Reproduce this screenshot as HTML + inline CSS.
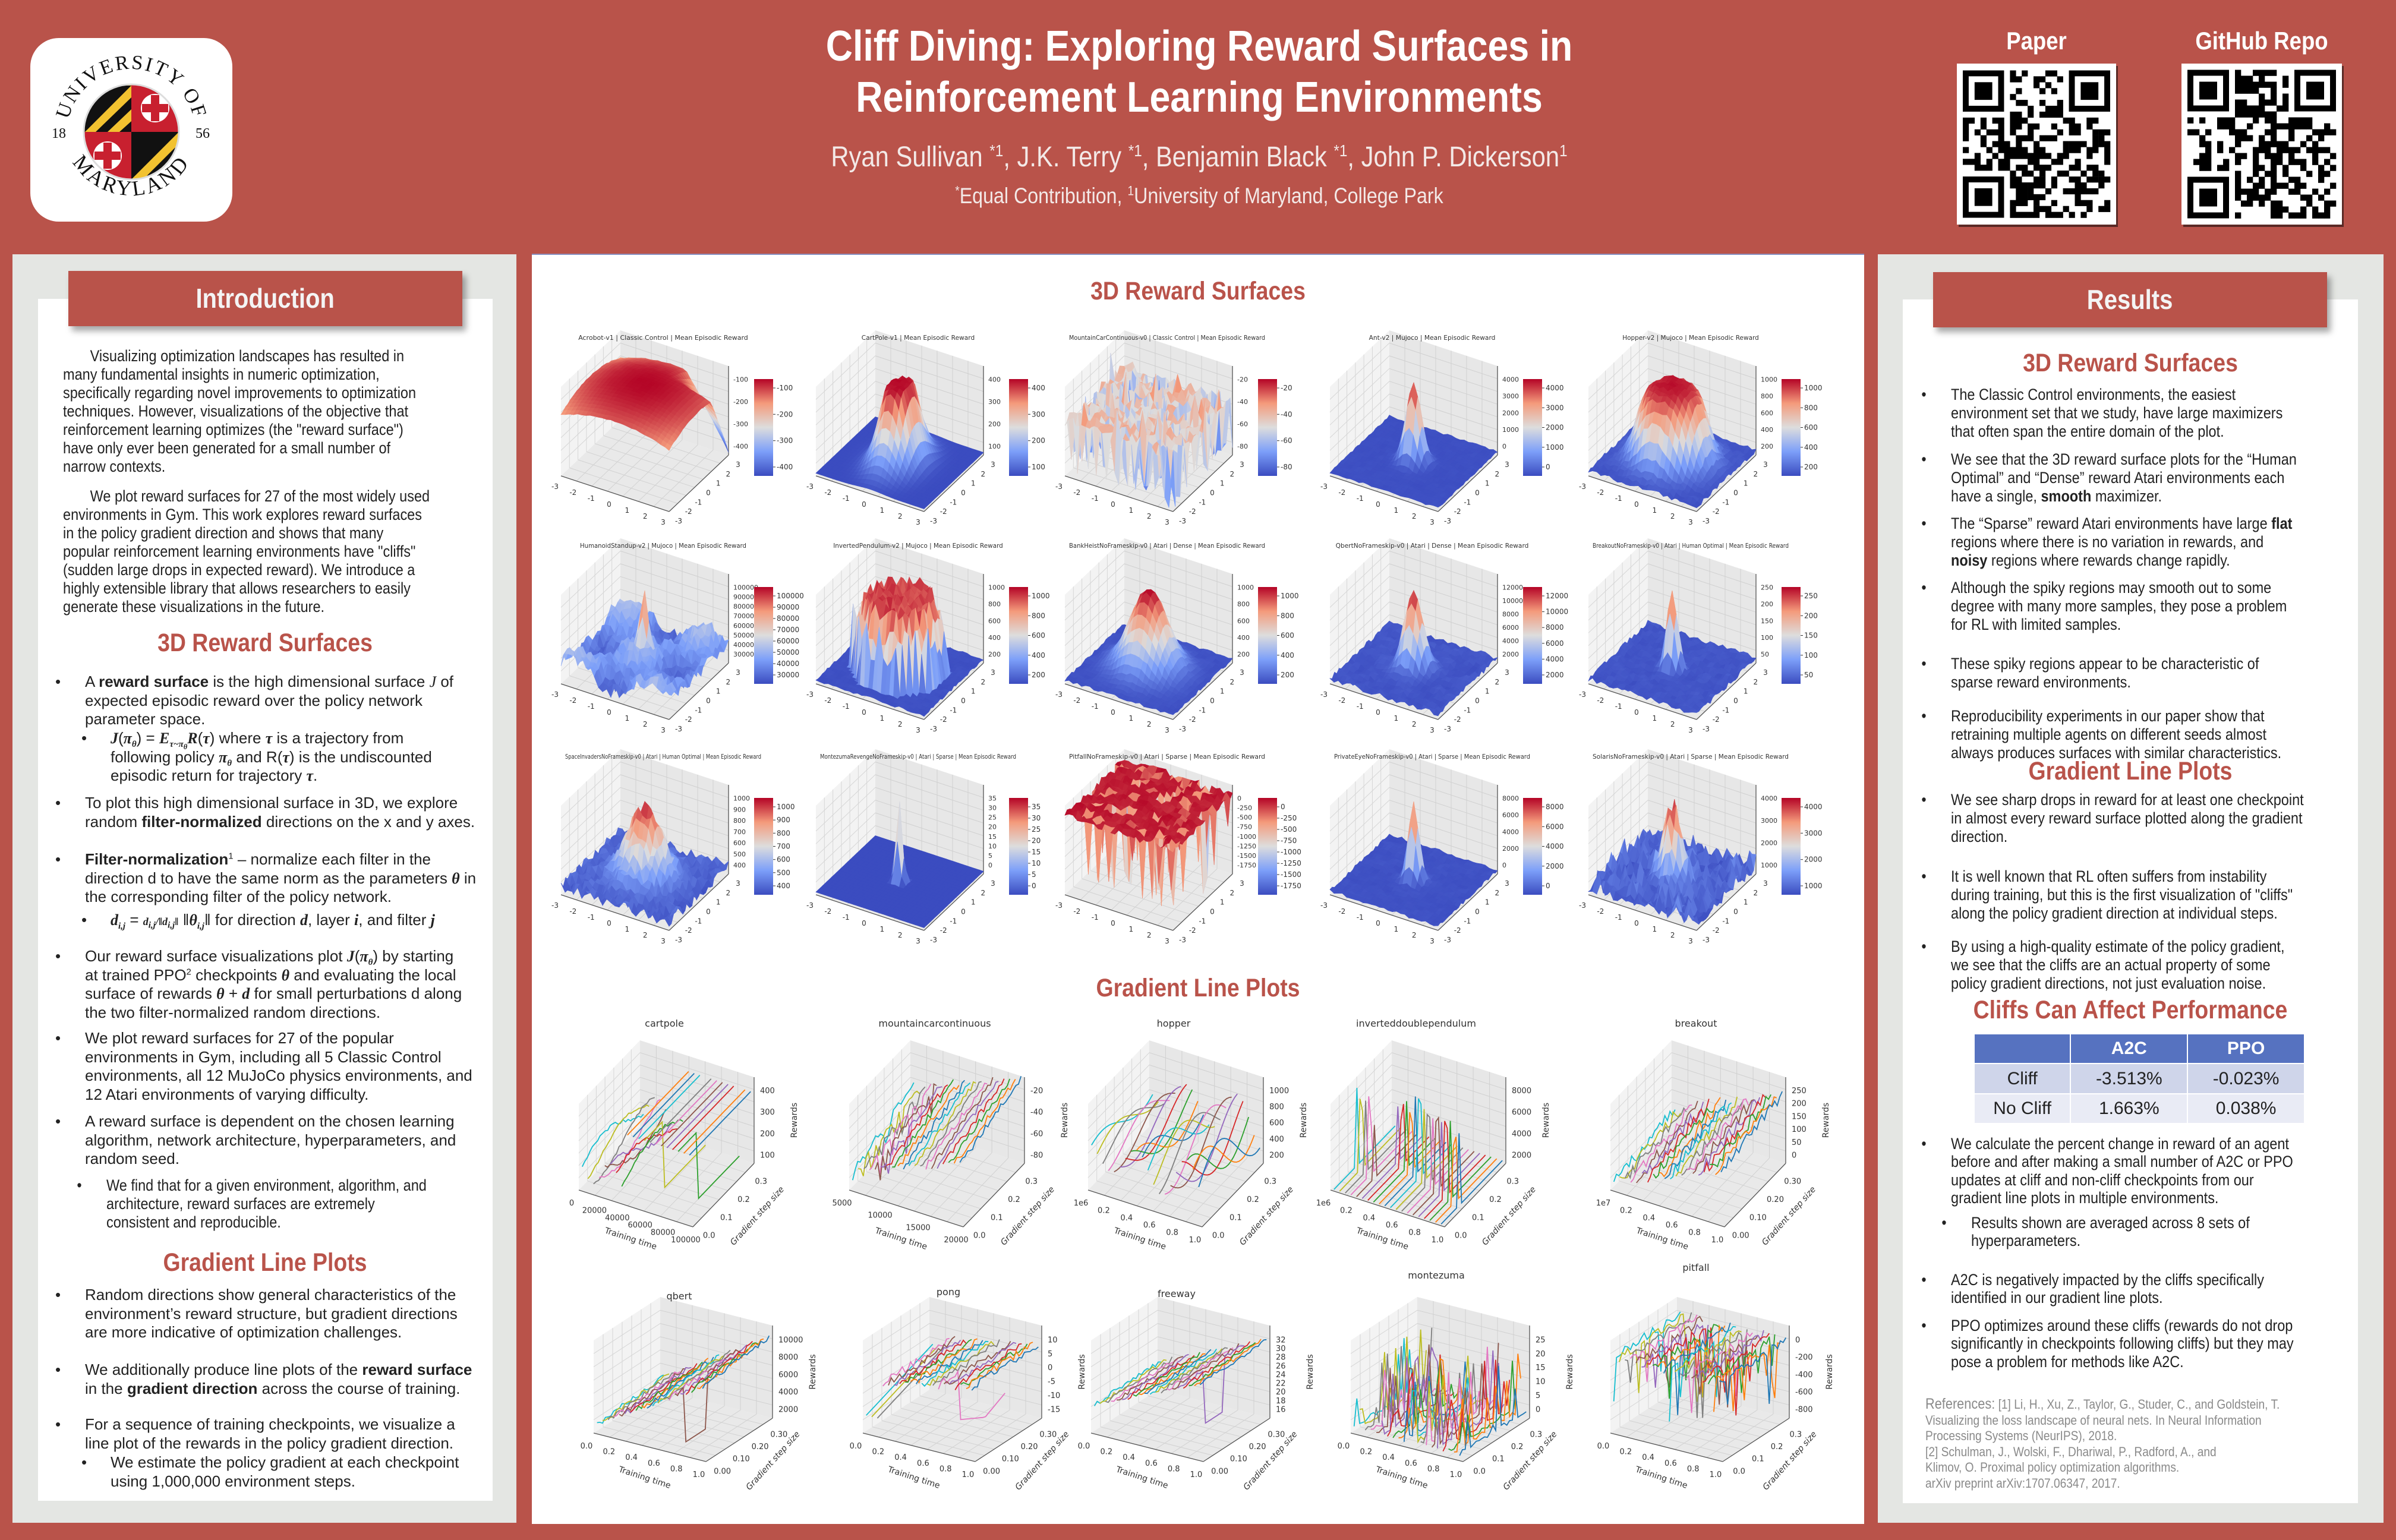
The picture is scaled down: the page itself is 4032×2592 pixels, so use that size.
<!DOCTYPE html>
<html><head><meta charset="utf-8">
<style>
html,body{margin:0;padding:0}
body{width:4032px;height:2592px;position:relative;overflow:hidden;background:#b9534a;font-family:"Liberation Sans",Arial,sans-serif;color:#222}
.abs{position:absolute}
.pnl{position:absolute}
sub,sup{line-height:0}
.n{position:absolute;font-size:27px;line-height:31px;white-space:nowrap;transform:scaleX(.87);transform-origin:0 0;color:#222}
.w{position:absolute;font-size:26px;line-height:31.5px;white-space:nowrap;color:#222}
.bl{position:absolute}
.hd{position:absolute;width:2000px;text-align:center;font-weight:bold;color:#b9534a;font-size:43px;line-height:50px;transform:scaleX(.87);transform-origin:50% 0;white-space:nowrap}
.bx{position:absolute;background:#b9534a;box-shadow:6px 8px 10px rgba(0,0,0,.35);color:#f4f4f4;font-weight:bold;font-size:46px;text-align:center}
.m{font-family:"Liberation Serif",serif;font-weight:bold;font-style:italic}
.ctr{position:absolute;width:2400px;text-align:center;white-space:nowrap;color:#fff;transform:scaleX(.87);transform-origin:50% 0}
table{border-collapse:collapse}
</style></head><body>

<div class="abs" style="left:51px;top:64px;width:340px;height:309px;background:#fff;border-radius:48px"></div>
<svg class="abs" style="left:51px;top:64px" width="340" height="309" viewBox="0 0 340 309">
 <defs>
  <path id="arcT" d="M62,160 A108,108 0 0 1 278,160"/>
  <path id="arcB" d="M55,150 A115,115 0 0 0 285,150"/>
 </defs>
 <text font-family="Liberation Serif,serif" font-size="34" fill="#111" letter-spacing="3"><textPath href="#arcT" startOffset="50%" text-anchor="middle">UNIVERSITY OF</textPath></text>
 <text font-family="Liberation Serif,serif" font-size="36" fill="#111" letter-spacing="4"><textPath href="#arcB" startOffset="50%" text-anchor="middle">MARYLAND</textPath></text>
 <text x="36" y="168" font-family="Liberation Serif,serif" font-size="24" fill="#111">18</text>
 <text x="278" y="168" font-family="Liberation Serif,serif" font-size="24" fill="#111">56</text>
 <clipPath id="cc"><circle cx="170" cy="158" r="80"/></clipPath>
 <g clip-path="url(#cc)">
  <rect x="90" y="78" width="80" height="80" fill="#f2c230"/>
  <path d="M90,80 l20,0 l-20,20z M110,80 l20,0 l-40,40 l0,-20z M130,80 l20,0 l-60,60 l0,-20z M150,80 l20,0 l-80,80 l0,-20z M170,100 l0,20 l-40,38 l-20,0z M170,140 l0,18 l-20,0z" fill="#111"/>
  <rect x="170" y="78" width="80" height="80" fill="#c8202f"/>
  <circle cx="210" cy="118" r="24" fill="#fff"/><rect x="203" y="96" width="14" height="44" fill="#c8202f"/><rect x="188" y="111" width="44" height="14" fill="#c8202f"/>
  <rect x="90" y="158" width="80" height="80" fill="#c8202f"/>
  <circle cx="130" cy="198" r="24" fill="#fff"/><rect x="123" y="176" width="14" height="44" fill="#c8202f"/><rect x="108" y="191" width="44" height="14" fill="#c8202f"/>
  <rect x="170" y="158" width="80" height="80" fill="#f2c230"/>
  <path d="M170,158 l20,0 l-20,20z M190,158 l20,0 l-40,40 l0,-20z M210,158 l20,0 l-60,60 l0,-20z M230,158 l20,0 l-80,80 l0,-20z M250,178 l0,20 l-40,40 l-20,0z M250,218 l0,20 l-20,0z" fill="#111"/>
 </g>
 <circle cx="170" cy="158" r="80" fill="none" stroke="#ddd" stroke-width="3"/>
</svg>

<div class="ctr" style="left:818px;top:35px;font-size:72px;line-height:86px;font-weight:bold">Cliff Diving: Exploring Reward Surfaces in<br>Reinforcement Learning Environments</div>
<div class="ctr" style="left:818px;top:236px;font-size:48px;line-height:58px;color:#f3e9e7">Ryan Sullivan <sup style="font-size:28px">*1</sup>, J.K. Terry <sup style="font-size:28px">*1</sup>, Benjamin Black <sup style="font-size:28px">*1</sup>, John P. Dickerson<sup style="font-size:28px">1</sup></div>
<div class="ctr" style="left:818px;top:308px;font-size:37px;line-height:44px;color:#f3e9e7"><sup style="font-size:22px">*</sup>Equal Contribution, <sup style="font-size:22px">1</sup>University of Maryland, College Park</div>
<div class="ctr" style="left:2227px;top:44px;font-size:42px;line-height:50px;font-weight:bold">Paper</div>
<div class="ctr" style="left:2606px;top:44px;font-size:42px;line-height:50px;font-weight:bold">GitHub Repo</div>

<div class="pnl" style="left:21px;top:428px;width:848px;height:2135px;background:#e4e6e3"></div>
<div class="pnl" style="left:64px;top:503px;width:765px;height:2023px;background:#fff"></div>
<div class="pnl" style="left:895px;top:427px;width:2242px;height:2136px;background:#fff;border-top:2px solid #8a90c0"></div>
<div class="pnl" style="left:3160px;top:428px;width:851px;height:2135px;background:#e4e6e3"></div>
<div class="pnl" style="left:3202px;top:504px;width:766px;height:2026px;background:#fff"></div>

<div class="bx" style="left:115px;top:456px;width:663px;height:93px;line-height:93px"><span style="display:inline-block;transform:scaleX(.87)">Introduction</span></div>
<div class="bx" style="left:3253px;top:458px;width:663px;height:93px;line-height:93px"><span style="display:inline-block;transform:scaleX(.87)">Results</span></div>

<div class="n" style="left:106px;top:584px">&nbsp;&nbsp;&nbsp;&nbsp;&nbsp;&nbsp;&nbsp;Visualizing optimization landscapes has resulted in<br>many fundamental insights in numeric optimization,<br>specifically regarding novel improvements to optimization<br>techniques. However, visualizations of the objective that<br>reinforcement learning optimizes (the "reward surface")<br>have only ever been generated for a small number of<br>narrow contexts.</div>
<div class="n" style="left:106px;top:820px">&nbsp;&nbsp;&nbsp;&nbsp;&nbsp;&nbsp;&nbsp;We plot reward surfaces for 27 of the most widely used<br>environments in Gym. This work explores reward surfaces<br>in the policy gradient direction and shows that many<br>popular reinforcement learning environments have "cliffs"<br>(sudden large drops in expected reward). We introduce a<br>highly extensible library that allows researchers to easily<br>generate these visualizations in the future.</div>
<div class="hd" style="left:-554px;top:1057px">3D Reward Surfaces</div>

<div class="w" style="left:143px;top:1132px"><span class="bl" style="left:-50px">•</span>A <b>reward surface</b> is the high dimensional surface <i style="font-family:'Liberation Serif',serif">J</i> of<br>expected episodic reward over the policy network<br>parameter space.</div>
<div class="w" style="left:186px;top:1227px"><span class="bl" style="left:-49px">•</span><span class="m">J</span>(<span class="m">π<sub style="font-size:15px">θ</sub></span>) = <span class="m">E<sub style="font-size:15px">τ~π<sub>θ</sub></sub>R</span>(<span class="m">τ</span>) where <span class="m">τ</span> is a trajectory from<br>following policy <span class="m">π<sub style="font-size:15px">θ</sub></span> and R(<span class="m">τ</span>) is the undiscounted<br>episodic return for trajectory <span class="m">τ</span>.</div>
<div class="w" style="left:143px;top:1336px"><span class="bl" style="left:-50px">•</span>To plot this high dimensional surface in 3D, we explore<br>random <b>filter-normalized</b> directions on the x and y axes.</div>
<div class="w" style="left:143px;top:1431px"><span class="bl" style="left:-50px">•</span><b>Filter-normalization</b><sup style="font-size:15px">1</sup> – normalize each filter in the<br>direction d to have the same norm as the parameters <span class="m">θ</span> in<br>the corresponding filter of the policy network.</div>
<div class="w" style="left:186px;top:1533px"><span class="bl" style="left:-49px">•</span><span class="m">d<sub style="font-size:15px">i,j</sub></span> = <span class="m" style="font-size:18px">d<sub>i,j</sub>/‖d<sub>i,j</sub>‖</span> ‖<span class="m">θ<sub style="font-size:15px">i,j</sub></span>‖ for direction <span class="m">d</span>, layer <span class="m">i</span>, and filter <span class="m">j</span></div>
<div class="w" style="left:143px;top:1594px"><span class="bl" style="left:-50px">•</span>Our reward surface visualizations plot <span class="m">J</span>(<span class="m">π<sub style="font-size:15px">θ</sub></span>) by starting<br>at trained PPO<sup style="font-size:15px">2</sup> checkpoints <span class="m">θ</span> and evaluating the local<br>surface of rewards <span class="m">θ</span> + <span class="m">d</span> for small perturbations d along<br>the two filter-normalized random directions.</div>
<div class="w" style="left:143px;top:1732px"><span class="bl" style="left:-50px">•</span>We plot reward surfaces for 27 of the popular<br>environments in Gym, including all 5 Classic Control<br>environments, all 12 MuJoCo physics environments, and<br>12 Atari environments of varying difficulty.</div>
<div class="w" style="left:143px;top:1872px"><span class="bl" style="left:-50px">•</span>A reward surface is dependent on the chosen learning<br>algorithm, network architecture, hyperparameters, and<br>random seed.</div>
<div class="n" style="left:179px;top:1980px"><span class="bl" style="left:-57px">•</span>We find that for a given environment, algorithm, and<br>architecture, reward surfaces are extremely<br>consistent and reproducible.</div>
<div class="hd" style="left:-554px;top:2100px">Gradient Line Plots</div>
<div class="w" style="left:143px;top:2164px"><span class="bl" style="left:-50px">•</span>Random directions show general characteristics of the<br>environment’s reward structure, but gradient directions<br>are more indicative of optimization challenges.</div>
<div class="w" style="left:143px;top:2290px"><span class="bl" style="left:-50px">•</span>We additionally produce line plots of the <b>reward surface</b><br>in the <b>gradient direction</b> across the course of training.</div>
<div class="w" style="left:143px;top:2382px"><span class="bl" style="left:-50px">•</span>For a sequence of training checkpoints, we visualize a<br>line plot of the rewards in the policy gradient direction.</div>
<div class="w" style="left:186px;top:2446px"><span class="bl" style="left:-49px">•</span>We estimate the policy gradient at each checkpoint<br>using 1,000,000 environment steps.</div>

<div class="hd" style="left:1016px;top:465px">3D Reward Surfaces</div>
<div class="hd" style="left:1016px;top:1638px">Gradient Line Plots</div>

<div class="hd" style="left:2585px;top:586px">3D Reward Surfaces</div>
<div class="n" style="left:3283px;top:649px"><span class="bl" style="left:-57px">•</span>The Classic Control environments, the easiest<br>environment set that we study, have large maximizers<br>that often span the entire domain of the plot.</div>
<div class="n" style="left:3283px;top:758px"><span class="bl" style="left:-57px">•</span>We see that the 3D reward surface plots for the “Human<br>Optimal” and “Dense” reward Atari environments each<br>have a single, <b>smooth</b> maximizer.</div>
<div class="n" style="left:3283px;top:866px"><span class="bl" style="left:-57px">•</span>The “Sparse” reward Atari environments have large <b>flat</b><br>regions where there is no variation in rewards, and<br><b>noisy</b> regions where rewards change rapidly.</div>
<div class="n" style="left:3283px;top:974px"><span class="bl" style="left:-57px">•</span>Although the spiky regions may smooth out to some<br>degree with many more samples, they pose a problem<br>for RL with limited samples.</div>
<div class="n" style="left:3283px;top:1102px"><span class="bl" style="left:-57px">•</span>These spiky regions appear to be characteristic of<br>sparse reward environments.</div>
<div class="n" style="left:3283px;top:1190px"><span class="bl" style="left:-57px">•</span>Reproducibility experiments in our paper show that<br>retraining multiple agents on different seeds almost<br>always produces surfaces with similar characteristics.</div>
<div class="hd" style="left:2585px;top:1273px">Gradient Line Plots</div>
<div class="n" style="left:3283px;top:1331px"><span class="bl" style="left:-57px">•</span>We see sharp drops in reward for at least one checkpoint<br>in almost every reward surface plotted along the gradient<br>direction.</div>
<div class="n" style="left:3283px;top:1460px"><span class="bl" style="left:-57px">•</span>It is well known that RL often suffers from instability<br>during training, but this is the first visualization of "cliffs"<br>along the policy gradient direction at individual steps.</div>
<div class="n" style="left:3283px;top:1578px"><span class="bl" style="left:-57px">•</span>By using a high-quality estimate of the policy gradient,<br>we see that the cliffs are an actual property of some<br>policy gradient directions, not just evaluation noise.</div>
<div class="hd" style="left:2585px;top:1675px">Cliffs Can Affect Performance</div>

<table class="abs" style="left:3321px;top:1739px;width:558px;font-size:30px;text-align:center">
 <tr style="height:50px;background:#5672c0;color:#fff;font-weight:bold"><td style="width:164px;border:2px solid #fff"></td><td style="width:197px;border:2px solid #fff">A2C</td><td style="width:197px;border:2px solid #fff">PPO</td></tr>
 <tr style="height:51px;background:#cfd5ea"><td style="border:2px solid #fff">Cliff</td><td style="border:2px solid #fff">-3.513%</td><td style="border:2px solid #fff">-0.023%</td></tr>
 <tr style="height:50px;background:#e9ebf5"><td style="border:2px solid #fff">No Cliff</td><td style="border:2px solid #fff">1.663%</td><td style="border:2px solid #fff">0.038%</td></tr>
</table>

<div class="n" style="left:3283px;top:1910px;line-height:30.3px"><span class="bl" style="left:-57px">•</span>We calculate the percent change in reward of an agent<br>before and after making a small number of A2C or PPO<br>updates at cliff and non-cliff checkpoints from our<br>gradient line plots in multiple environments.</div>
<div class="n" style="left:3317px;top:2043px;line-height:30.3px"><span class="bl" style="left:-57px">•</span>Results shown are averaged across 8 sets of<br>hyperparameters.</div>
<div class="n" style="left:3283px;top:2139px;line-height:30.3px"><span class="bl" style="left:-57px">•</span>A2C is negatively impacted by the cliffs specifically<br>identified in our gradient line plots.</div>
<div class="n" style="left:3283px;top:2216px;line-height:30.3px"><span class="bl" style="left:-57px">•</span>PPO optimizes around these cliffs (rewards do not drop<br>significantly in checkpoints following cliffs) but they may<br>pose a problem for methods like A2C.</div>
<div class="n" style="left:3240px;top:2350px;font-size:22px;line-height:26.6px;color:#8a8a8a"><span style="font-size:25px">References:</span> [1] Li, H., Xu, Z., Taylor, G., Studer, C., and Goldstein, T.<br>Visualizing the loss landscape of neural nets. In Neural Information<br>Processing Systems (NeurIPS), 2018.<br>[2] Schulman, J., Wolski, F., Dhariwal, P., Radford, A., and<br>Klimov, O. Proximal policy optimization algorithms.<br>arXiv preprint arXiv:1707.06347, 2017.</div>

<svg id="plots" class="abs" style="left:0;top:0" width="4032" height="2592"></svg>

<script>
(function(){
var s='';
var seed=12345;
function R(){seed=(seed*16807)%2147483647;return (seed-1)/2147483646;}
var st=[[0,[59,76,192]],[.25,[124,159,249]],[.5,[221,221,221]],[.75,[244,154,123]],[1,[180,4,38]]];
function cw(t){t=Math.max(0,Math.min(1,t));for(var i=0;i<4;i++){if(t<=st[i+1][0]){var a=st[i],b=st[i+1],f=(t-a[0])/(b[0]-a[0]);return 'rgb('+Math.round(a[1][0]+(b[1][0]-a[1][0])*f)+','+Math.round(a[1][1]+(b[1][1]-a[1][1])*f)+','+Math.round(a[1][2]+(b[1][2]-a[1][2])*f)+')';}}return 'rgb(180,4,38)';}
function P(g,u,v,w){return [g.O[0]+u*g.X[0]+v*g.Y[0]+w*g.Z[0],g.O[1]+u*g.X[1]+v*g.Y[1]+w*g.Z[1]];}
function pts(a){return a.map(function(p){return p[0].toFixed(1)+','+p[1].toFixed(1);}).join(' ');}
function ln(a,b,c,w){s+='<line x1="'+a[0].toFixed(1)+'" y1="'+a[1].toFixed(1)+'" x2="'+b[0].toFixed(1)+'" y2="'+b[1].toFixed(1)+'" stroke="'+c+'" stroke-width="'+(w||1)+'"/>';}
function tx(x,y,t,sz,anc,extra){s+='<text x="'+x.toFixed(1)+'" y="'+y.toFixed(1)+'" font-family="DejaVu Sans,Liberation Sans,sans-serif" font-size="'+sz+'" fill="#333" text-anchor="'+(anc||'middle')+'" '+(extra||'')+'>'+t+'</text>';}
function box(g,n){
 s+='<polygon points="'+pts([P(g,0,0,0),P(g,1,0,0),P(g,1,1,0),P(g,0,1,0)])+'" fill="#e9e9e9"/>';
 s+='<polygon points="'+pts([P(g,1,0,0),P(g,1,1,0),P(g,1,1,1),P(g,1,0,1)])+'" fill="#f3f3f3"/>';
 s+='<polygon points="'+pts([P(g,0,1,0),P(g,1,1,0),P(g,1,1,1),P(g,0,1,1)])+'" fill="#e7e7e7"/>';
 for(var k=1;k<n;k++){var t=k/n;
  ln(P(g,t,0,0),P(g,t,1,0),'#d2d2d2');ln(P(g,0,t,0),P(g,1,t,0),'#d2d2d2');
  ln(P(g,1,t,0),P(g,1,t,1),'#d6d6d6');ln(P(g,1,0,t),P(g,1,1,t),'#d6d6d6');
  ln(P(g,t,1,0),P(g,t,1,1),'#d0d0d0');ln(P(g,0,1,t),P(g,1,1,t),'#d0d0d0');}
 ln(P(g,0,0,0),P(g,1,0,0),'#555',1.3);ln(P(g,0,0,0),P(g,0,1,0),'#555',1.3);ln(P(g,0,1,0),P(g,0,1,1),'#555',1.3);
}
function surf(g,f,n){
 var H=[],mn=1e9,mx=-1e9,i,j;
 for(i=0;i<=n;i++){H[i]=[];for(j=0;j<=n;j++){var h=f(i/n,j/n);H[i][j]=h;if(h<mn)mn=h;if(h>mx)mx=h;}}
 var q=[];for(i=0;i<n;i++)for(j=0;j<n;j++)q.push([i,j]);
 q.sort(function(a,b){return (b[0]+b[1])-(a[0]+a[1]);});
 var W=function(h){return 0.03+0.9*(h-mn)/(mx-mn||1);};
 q.forEach(function(c){var i=c[0],j=c[1];
  var a=H[i][j],b=H[i+1][j],d=H[i+1][j+1],e=H[i][j+1];
  var col=cw(((a+b+d+e)/4-mn)/(mx-mn||1));
  s+='<polygon points="'+pts([P(g,i/n,j/n,W(a)),P(g,(i+1)/n,j/n,W(b)),P(g,(i+1)/n,(j+1)/n,W(d)),P(g,i/n,(j+1)/n,W(e))])+'" fill="'+col+'" stroke="'+col+'" stroke-width="0.7"/>';});
}
function g2(u,v){var a=u-.5,b=v-.5;return a*a+b*b;}
var S=[
 ['Acrobot-v1 | Classic Control | Mean Episodic Reward',function(u,v){var h=0.95-1.3*g2(u,v)+0.03*R();if(u<0.4&&v>0.7)h-=0.9*(v-0.7)/0.3*(0.4-u)/0.4*2;return h;},['-100','-200','-300','-400']],
 ['CartPole-v1 | Mean Episodic Reward',function(u,v){var a=u-.5,b=v-.5;var gg=Math.exp(-(a*a/0.025+b*b/0.06));return Math.min(1,1.5*gg)+0.05*gg*R();},['400','300','200','100']],
 ['MountainCarContinuous-v0 | Classic Control | Mean Episodic Reward',function(u,v){var r=R();return r<0.3?r*0.9:0.62+0.15*R()+(R()<0.04?0.3:0);},['-20','-40','-60','-80']],
 ['Ant-v2 | Mujoco | Mean Episodic Reward',function(u,v){return 0.05+0.9*Math.exp(-g2(u,v)/0.008)+0.02*R();},['4000','3000','2000','1000','0']],
 ['Hopper-v2 | Mujoco | Mean Episodic Reward',function(u,v){return 0.08+0.85/(1+Math.exp((Math.sqrt(g2(u,v))-0.3)*22))+0.05*R();},['1000','800','600','400','200']],
 ['HumanoidStandup-v2 | Mujoco | Mean Episodic Reward',function(u,v){return 0.25+0.2*R()+0.3*Math.sin(u*9)*Math.cos(v*7)*0.5+0.7*Math.exp(-g2(u,v)/0.002);},['100000','90000','80000','70000','60000','50000','40000','30000']],
 ['InvertedPendulum-v2 | Mujoco | Mean Episodic Reward',function(u,v){var r=Math.sqrt(g2(u,v));return r<0.3?0.8+0.2*R():(r<0.38?0.3+0.5*R():0.03+0.03*R());},['1000','800','600','400','200']],
 ['BankHeistNoFrameskip-v0 | Atari | Dense | Mean Episodic Reward',function(u,v){return 0.05+0.85*Math.exp(-g2(u,v)/0.05)+0.03*R();},['1000','800','600','400','200']],
 ['QbertNoFrameskip-v0 | Atari | Dense | Mean Episodic Reward',function(u,v){return 0.05+0.8*Math.exp(-g2(u,v)/0.012)+0.05*R();},['12000','10000','8000','6000','4000','2000']],
 ['BreakoutNoFrameskip-v0 | Atari | Human Optimal | Mean Episodic Reward',function(u,v){return 0.04+0.85*Math.exp(-g2(u,v)/0.004)+0.05*R();},['250','200','150','100','50']],
 ['SpaceInvadersNoFrameskip-v0 | Atari | Human Optimal | Mean Episodic Reward',function(u,v){return 0.1+0.7*Math.exp(-g2(u,v)/0.04)+0.12*R();},['1000','900','800','700','600','500','400']],
 ['MontezumaRevengeNoFrameskip-v0 | Atari | Sparse | Mean Episodic Reward',function(u,v){return 0.02+0.9*Math.exp(-g2(u,v)/0.0012)*(0.5+0.5*R());},['35','30','25','20','15','10','5','0']],
 ['PitfallNoFrameskip-v0 | Atari | Sparse | Mean Episodic Reward',function(u,v){return R()<0.07?0.2+0.5*R():0.92+0.06*R();},['0','-250','-500','-750','-1000','-1250','-1500','-1750']],
 ['PrivateEyeNoFrameskip-v0 | Atari | Sparse | Mean Episodic Reward',function(u,v){return 0.05+0.02*R()+0.55*Math.exp(-g2(u,v)/0.004);},['8000','6000','4000','2000','0']],
 ['SolarisNoFrameskip-v0 | Atari | Sparse | Mean Episodic Reward',function(u,v){return 0.12+0.5*Math.exp(-g2(u,v)/0.012)+0.18*R()*R();},['4000','3000','2000','1000']]
];
var TC=[1116,1545,1964,2410,2845],TY=[568,918,1273];
s+='<defs><linearGradient id="cb" x1="0" y1="1" x2="0" y2="0"><stop offset="0" stop-color="rgb(59,76,192)"/><stop offset=".25" stop-color="rgb(124,159,249)"/><stop offset=".5" stop-color="rgb(221,221,221)"/><stop offset=".75" stop-color="rgb(244,154,123)"/><stop offset="1" stop-color="rgb(180,4,38)"/></linearGradient></defs>';
var ticks3=['-3','-2','-1','0','1','2','3'];
S.forEach(function(p,k){
 var c=k%5,r=Math.floor(k/5),tc=TC[c],ty=TY[r];
 var g={O:[tc+10,ty+293],X:[-182,-60],Y:[100,-95],Z:[0,-150]};
 box(g,7);
 surf(g,p[1],26);
 tx(tc,ty+4,p[0],11,'middle','textLength="'+Math.min(330,p[0].length*5.6)+'" lengthAdjust="spacingAndGlyphs"');
 for(var i=0;i<7;i++){var a=P(g,1-i/6,0,0);tx(a[0]-10,a[1]+22,ticks3[i],12);var b=P(g,0,i/6,0);tx(b[0]+16,b[1]+20,ticks3[i],12);}
 var lab=p[2];
 for(i=0;i<lab.length;i++){var zz=P(g,0,1,0.85-0.75*i/(lab.length-1));tx(zz[0]+8,zz[1]+4,lab[i],11,'start');}
 var cx=tc+153,cy=ty+70;
 s+='<rect x="'+cx+'" y="'+cy+'" width="32" height="163" fill="url(#cb)"/>';
 for(i=0;i<lab.length;i++){var yy=cy+15+(133*i/(lab.length-1));tx(cx+38,yy+4,lab[i],12,'start');ln([cx+32,yy],[cx+36,yy],'#333');}
});
var C=['#1f77b4','#ff7f0e','#2ca02c','#d62728','#9467bd','#8c564b','#e377c2','#7f7f7f','#bcbd22','#17becf'];
function lp(g,N,fn){for(var i=N-1;i>=0;i--){var u=0.03+0.94*i/(N-1),a=[];for(var k=0;k<=24;k++){var v=k/24;var w=fn(i,v,u);w=Math.max(0,Math.min(1,w));a.push(P(g,u,v,w));}
 s+='<polyline points="'+pts(a)+'" fill="none" stroke="'+C[i%10]+'" stroke-width="1.8"/>';}}
var L=[
 ['cartpole',1118,1723,1,function(i,v,u){if(u>0.62)return 0.25+0.15*Math.sin(v*4+i)+0.04*R();if((i%6==2)&&v>0.3)return 0.03;return 0.82;},['0','20000','40000','60000','80000','100000'],['0.0','0.1','0.2','0.3'],['400','300','200','100']],
 ['mountaincarcontinuous',1573,1723,1,function(i,v,u){var b=0.35+0.5*(1-u)+0.25*v-0.12;if(u>0.7&&R()<0.3)b-=0.3*R();return b+0.08*(R()-.5);},['5000','10000','15000','20000'],['0.0','0.1','0.2','0.3'],['-20','-40','-60','-80']],
 ['hopper',1975,1723,1,function(i,v,u){return 0.45+0.3*Math.sin(v*5+i*0.7)*(0.4+0.6*(1-u));},['1e6','0.2','0.4','0.6','0.8','1.0'],['0.0','0.1','0.2','0.3'],['1000','800','600','400','200']],
 ['inverteddoublependulum',2383,1723,1,function(i,v,u){return (Math.abs(v-0.3-0.02*i%0.3)<0.03)?0.55+0.4*R():0.02;},['1e6','0.2','0.4','0.6','0.8','1.0'],['0.0','0.1','0.2','0.3'],['8000','6000','4000','2000']],
 ['breakout',2854,1723,1,function(i,v,u){return 0.08+0.6*(1-u)+0.12*v+0.14*(R()-.5);},['1e7','0.2','0.4','0.6','0.8','1.0'],['0.00','0.10','0.20','0.30'],['250','200','150','100','50','0']],
 ['qbert',1143,2182,2,function(i,v,u){if(i==5&&v>0.15&&v<0.5)return 0.05;return 0.08+0.75*(1-u)+0.05*v+0.06*(R()-.5);},['0.0','0.2','0.4','0.6','0.8','1.0'],['0.00','0.10','0.20','0.30'],['10000','8000','6000','4000','2000']],
 ['pong',1596,2175,2,function(i,v,u){if(i==6&&v>0.3)return 0.05+0.4*Math.abs(v-0.7);if(u>0.85)return 0.2+0.3*v;return 0.55+0.25*(1-u)+0.08*(R()-.5);},['0.0','0.2','0.4','0.6','0.8','1.0'],['0.00','0.10','0.20','0.30'],['10','5','0','-5','-10','-15']],
 ['freeway',1980,2178,2,function(i,v,u){if(i==4&&v>0.4&&v<0.7)return 0.15;return 0.3+0.55*(1-u)+0.05*(R()-.5);},['0.0','0.2','0.4','0.6','0.8','1.0'],['0.00','0.10','0.20','0.30'],['32','30','28','26','24','22','20','18','16']],
 ['montezuma',2417,2147,2,function(i,v,u){return R()<0.3?0.15+0.6*R():0.05+0.05*R();},['0.0','0.2','0.4','0.6','0.8','1.0'],['0.0','0.1','0.2','0.3'],['25','20','15','10','5','0']],
 ['pitfall',2854,2134,2,function(i,v,u){return R()<0.12?0.2+0.4*R():0.78+0.1*R();},['0.0','0.2','0.4','0.6','0.8','1.0'],['0.0','0.1','0.2','0.3'],['0','-200','-400','-600','-800']]
];
L.forEach(function(p){
 var tc=p[1],ty=p[2],g;
 if(p[3]==1)g={O:[tc+48,2065],X:[-192,-62],Y:[103,-107],Z:[0,-145]};
 else g={O:[tc+45,2460],X:[-189,-48],Y:[112,-73],Z:[0,-156]};
 box(g,7);
 lp(g,20,p[4]);
 tx(tc,ty+5,p[0],16);
 var xt=p[5],i;
 for(i=0;i<xt.length;i++){var a=P(g,1-i/(xt.length-1),0,0);tx(a[0]-12,a[1]+26,xt[i],13);}
 var yt=p[6];for(i=0;i<yt.length;i++){var b=P(g,0,0.05+0.85*i/(yt.length-1),0);tx(b[0]+22,b[1]+24,yt[i],13);}
 var zt=p[7];for(i=0;i<zt.length;i++){var z=P(g,0,1,0.85-0.75*i/(zt.length-1));tx(z[0]+10,z[1]+5,zt[i],13,'start');}
 var m=P(g,0.5,0,0);tx(m[0]-10,m[1]+55,'Training time',14,'middle','transform="rotate(18 '+(m[0]-10)+' '+(m[1]+55)+')"');
 var n=P(g,0,0.5,0);tx(n[0]+60,n[1]+38,'Gradient step size',14,'middle','font-style="italic" transform="rotate(-48 '+(n[0]+60)+' '+(n[1]+38)+')"');
 var o=P(g,0,1,0.5);tx(o[0]+72,o[1],'Rewards',14,'middle','transform="rotate(-90 '+(o[0]+72)+' '+o[1]+')"');
});
function qr(x,y,w,h,sd){
 seed=sd;
 s+='<rect x="'+(x+3)+'" y="'+(y+4)+'" width="'+w+'" height="'+h+'" fill="#5a2a26"/>';
 s+='<rect x="'+x+'" y="'+y+'" width="'+w+'" height="'+h+'" fill="#fff"/>';
 var n=25,m=(w-20)/n,ox=x+10,oy=y+(h-m*n)/2,i,j;
 function fin(cx,cy){s+='<rect x="'+(ox+cx*m)+'" y="'+(oy+cy*m)+'" width="'+7*m+'" height="'+7*m+'" fill="#000"/><rect x="'+(ox+(cx+1)*m)+'" y="'+(oy+(cy+1)*m)+'" width="'+5*m+'" height="'+5*m+'" fill="#fff"/><rect x="'+(ox+(cx+2)*m)+'" y="'+(oy+(cy+2)*m)+'" width="'+3*m+'" height="'+3*m+'" fill="#000"/>';}
 for(i=0;i<n;i++)for(j=0;j<n;j++){if((i<8&&j<8)||(i>n-9&&j<8)||(i<8&&j>n-9))continue;if(R()<0.5)s+='<rect x="'+(ox+i*m).toFixed(1)+'" y="'+(oy+j*m).toFixed(1)+'" width="'+(m+0.3).toFixed(1)+'" height="'+(m+0.3).toFixed(1)+'" fill="#000"/>';}
 fin(0,0);fin(n-7,0);fin(0,n-7);
}
qr(3293,107,268,271,777);
qr(3671,107,270,271,4242);
document.getElementById('plots').innerHTML=s;
})();
</script>
</body></html>
